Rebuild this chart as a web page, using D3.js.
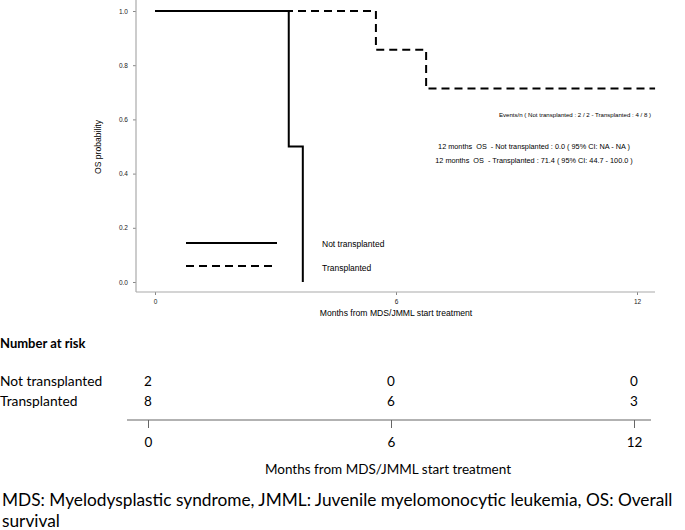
<!DOCTYPE html>
<html>
<head>
<meta charset="utf-8">
<script src="https://cdn.jsdelivr.net/npm/d3@7"></script>
<style>
body{margin:0;background:#fff}
svg text{fill:#000}
</style>
</head>
<body>
<script>
// KM step data (time in months, survival)
var notTxTimes=[0,3.33,3.68]
var notTxSurv=[1.0,0.5,0.0]
var txTimes=[0,5.5,6.75,12.45]
var txSurv=[1.0,0.857,0.714,0.714]
var xTicks=[0,6,12]
var yTicks=[0,0.2,0.4,0.6,0.8,1.0]
var riskGroups=["Not transplanted","Transplanted"]
var riskNot=[2,0,0]
var riskTx=[8,6,3]

var screen={width:685,height:530}
var svg=d3.select("body").append("svg").attr("width",screen.width).attr("height",screen.height)
var font1="'Liberation Sans', Arial, sans-serif"
var font2="Lato, 'Open Sans', sans-serif"

var xScale=d3.scaleLinear().domain([0,12]).range([155,637])
var yScale=d3.scaleLinear().domain([0,1]).range([282,11])

// axes
var xAxis=d3.axisBottom(xScale).tickValues(xTicks).tickSize(3).tickSizeOuter(0)
var gx=svg.append("g").attr("transform","translate(0,292)").call(xAxis)
gx.attr("font-family",font1)
gx.select(".domain").remove()
gx.append("line").attr("x1",136).attr("x2",655).attr("y1",0).attr("y2",0).attr("stroke","#aaa").attr("stroke-width",1.2)
gx.selectAll(".tick line").attr("stroke","#888")
gx.selectAll(".tick text").attr("font-size",6.5).attr("dy","0.9em").style("fill","#222")

var yAxis=d3.axisLeft(yScale).tickValues(yTicks).tickSize(3).tickFormat(d3.format(".1f"))
var gy=svg.append("g").attr("transform","translate(136,0)").call(yAxis)
gy.attr("font-family",font1)
gy.select(".domain").remove()
gy.append("line").attr("x1",0).attr("x2",0).attr("y1",0).attr("y2",292).attr("stroke","#aaa").attr("stroke-width",1.2)
gy.selectAll(".tick line").attr("stroke","#888")
gy.selectAll(".tick text").attr("font-size",6.5).attr("x",-8).style("fill","#222")

svg.append("text").attr("transform","translate(101,147) rotate(-90)").attr("text-anchor","middle")
   .attr("font-family",font1).attr("font-size",8.6).text("OS  probability")
svg.append("text").attr("x",396).attr("y",316).attr("text-anchor","middle")
   .attr("font-family",font1).attr("font-size",8.6).text("Months from MDS/JMML start treatment")

// curves
var line=d3.line().x(function(d){return xScale(d[0])}).y(function(d){return yScale(d[1])}).curve(d3.curveStepAfter)
svg.append("path").datum(d3.zip(notTxTimes,notTxSurv)).attr("d",line)
   .attr("fill","none").attr("stroke","#000").attr("stroke-width",2)
svg.append("path").datum(d3.zip(txTimes,txSurv)).attr("d",line)
   .attr("fill","none").attr("stroke","#000").attr("stroke-width",2).attr("stroke-dasharray","8,5")

// legend
svg.append("line").attr("x1",186).attr("x2",277).attr("y1",243).attr("y2",243).attr("stroke","#000").attr("stroke-width",2)
svg.append("line").attr("x1",186).attr("x2",276).attr("y1",266).attr("y2",266).attr("stroke","#000").attr("stroke-width",2).attr("stroke-dasharray","8,5")
svg.append("text").attr("x",322).attr("y",247).attr("font-family",font1).attr("font-size",8.5).text(riskGroups[0])
svg.append("text").attr("x",322).attr("y",271).attr("font-family",font1).attr("font-size",8.5).text(riskGroups[1])

// annotations
svg.append("text").attr("x",651).attr("y",117).attr("text-anchor","end").attr("font-family",font1).attr("font-size",6.1)
   .text("Events/n ( Not transplanted : 2 / 2 - Transplanted : 4 / 8 )")
svg.append("text").attr("x",534).attr("y",149).attr("text-anchor","middle").attr("font-family",font1).attr("font-size",7.3)
   .attr("xml:space","preserve").text("12 months  OS  - Not transplanted : 0.0 ( 95% CI: NA - NA )")
svg.append("text").attr("x",534).attr("y",163).attr("text-anchor","middle").attr("font-family",font1).attr("font-size",7.3)
   .attr("xml:space","preserve").text("12 months  OS  - Transplanted : 71.4 ( 95% CI: 44.7 - 100.0 )")

// number at risk table
var rScale=d3.scaleLinear().domain([0,12]).range([148,634])
svg.append("text").attr("x",0).attr("y",348).attr("font-family",font2).attr("font-weight","bold").attr("font-size",13).text("Number at risk")
svg.append("text").attr("x",0).attr("y",386).attr("font-family",font2).attr("font-size",13.8).text(riskGroups[0])
svg.append("text").attr("x",0).attr("y",406).attr("font-family",font2).attr("font-size",13.8).text(riskGroups[1])
svg.append("g").selectAll("text").data(riskNot).enter().append("text")
   .attr("x",function(d,i){return rScale(xTicks[i])}).attr("y",386).attr("text-anchor","middle")
   .attr("font-family",font2).attr("font-size",13.5).text(function(d){return d})
svg.append("g").selectAll("text").data(riskTx).enter().append("text")
   .attr("x",function(d,i){return rScale(xTicks[i])}).attr("y",406).attr("text-anchor","middle")
   .attr("font-family",font2).attr("font-size",13.5).text(function(d){return d})

var rAxis=d3.axisBottom(rScale).tickValues(xTicks).tickSize(8).tickSizeOuter(0)
var gr=svg.append("g").attr("transform","translate(0,420)").call(rAxis)
gr.attr("font-family",font2)
gr.select(".domain").remove()
gr.append("line").attr("x1",127).attr("x2",651).attr("y1",0).attr("y2",0).attr("stroke","#666").attr("stroke-width",1.2)
gr.selectAll(".tick line").attr("stroke","#666")
gr.selectAll(".tick text").attr("font-size",13.5).attr("dy","1.15em").style("fill","#000")

svg.append("text").attr("x",388).attr("y",474).attr("text-anchor","middle").attr("font-family",font2).attr("font-size",13.5)
   .text("Months from MDS/JMML start treatment")
svg.append("text").attr("x",2).attr("y",506).attr("font-family",font2).attr("font-size",17.3)
   .text("MDS: Myelodysplastic syndrome, JMML: Juvenile myelomonocytic leukemia, OS: Overall")
svg.append("text").attr("x",2).attr("y",527).attr("font-family",font2).attr("font-size",17.3).text("survival")
</script>
</body>
</html>
